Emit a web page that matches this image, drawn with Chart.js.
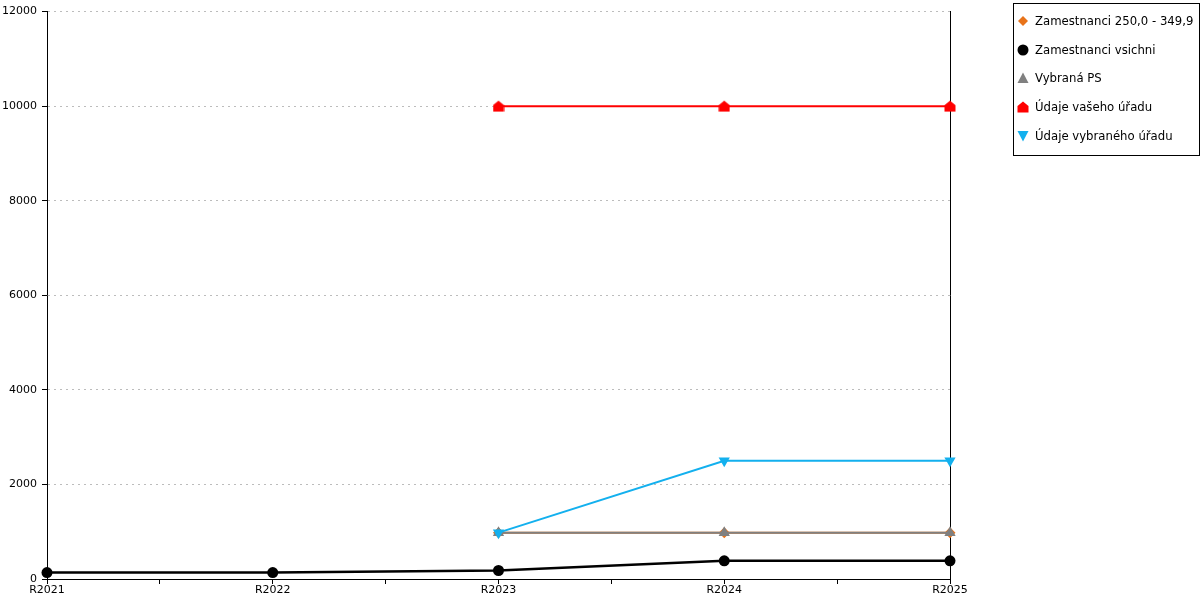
<!DOCTYPE html>
<html>
<head>
<meta charset="utf-8">
<script src="https://cdn.jsdelivr.net/npm/chart.js@4.4.1/dist/chart.umd.min.js"></script>
<style>
html,body{margin:0;padding:0;background:#fff;}
#wrap{position:relative;width:1200px;height:600px;}
#c{position:absolute;left:0;top:0;}
#legend{position:absolute;left:1013px;top:3px;width:187px;height:153px;border:1px solid #000;box-sizing:border-box;font-family:"DejaVu Sans";font-size:11.7px;color:#000;}
.item{position:absolute;left:3px;height:14px;line-height:14px;white-space:nowrap;}
.item svg{position:absolute;left:0;top:1px;}
.item span{position:absolute;left:18px;top:0;}
</style>
</head>
<body>
<div id="wrap">
<canvas id="c" width="1200" height="600"></canvas>
<div id="legend"></div>
</div>
<script>
const categories = ["R2021", "R2022", "R2023", "R2024", "R2025"];
const zamestnanci250 = [null, null, 980, 980, 980];
const zamestnanciVsichni = [135, 135, 180, 385, 385];
const vybranaPS = [null, null, 980, 980, 980];
const udajeVasehoUradu = [null, null, 10000, 10000, 10000];
const udajeVybranehoUradu = [null, null, 980, 2500, 2500];
const yTicks = [0, 2000, 4000, 6000, 8000, 10000, 12000];

const seriesNames = ["Zamestnanci 250,0 - 349,9", "Zamestnanci vsichni", "Vybraná PS", "Údaje vašeho úřadu", "Údaje vybraného úřadu"];
const seriesColors = ["#e8731a", "#000000", "#808080", "#ff0000", "#13b0ee"];

function houseCanvas(color){
  const cv = document.createElement('canvas');
  cv.width = 12; cv.height = 12;
  const g = cv.getContext('2d');
  g.fillStyle = color;
  g.beginPath();
  g.moveTo(6,0.5); g.lineTo(11.5,5); g.lineTo(11.5,11.5); g.lineTo(0.5,11.5); g.lineTo(0.5,5); g.closePath();
  g.fill();
  return cv;
}
const house = houseCanvas("#ff0000");

const toXY = arr => arr.map((v,i)=> v===null ? null : {x:i, y:v}).filter(p=>p);

const datasets = [
  {label:seriesNames[0], data:toXY(zamestnanci250), borderColor:seriesColors[0], backgroundColor:seriesColors[0], pointStyle:'rectRot', pointRadius:5.5, borderWidth:2},
  {label:seriesNames[1], data:toXY(zamestnanciVsichni), borderColor:seriesColors[1], backgroundColor:seriesColors[1], pointStyle:'circle', pointRadius:5.5, borderWidth:2.5},
  {label:seriesNames[2], data:toXY(vybranaPS), borderColor:seriesColors[2], backgroundColor:seriesColors[2], pointStyle:'triangle', pointRadius:6.5, borderWidth:2},
  {label:seriesNames[3], data:toXY(udajeVasehoUradu), borderColor:seriesColors[3], backgroundColor:seriesColors[3], pointStyle:house, pointRadius:6, borderWidth:2},
  {label:seriesNames[4], data:toXY(udajeVybranehoUradu), borderColor:seriesColors[4], backgroundColor:seriesColors[4], pointStyle:'triangle', pointRotation:180, pointRadius:6.5, borderWidth:2}
];
datasets.forEach((d,i)=>{ d.order = 5-i; d.pointBorderWidth = 0; d.tension = 0; d.fill=false; d.clip=false; d.pointHoverRadius=d.pointRadius; });

Chart.defaults.font.family = "DejaVu Sans";
Chart.defaults.font.size = 11;
Chart.defaults.color = "#000";

new Chart(document.getElementById('c'), {
  type:'line',
  data:{datasets},
  options:{
    responsive:false, animation:false,
    layout:{padding:{top:10,right:250,left:0,bottom:0}},
    plugins:{legend:{display:false}, tooltip:{enabled:false}},
    scales:{
      x:{type:'linear', min:0, max:categories.length-1,
        afterBuildTicks: s => { s.ticks = []; for(let v=0; v<=categories.length-1; v+=0.5) s.ticks.push({value:v}); },
        ticks:{autoSkip:false, maxRotation:0, padding:0, callback:(v)=> Number.isInteger(v) ? categories[v] : ''},
        grid:{drawOnChartArea:false, tickLength:5, color:'#000'},
        border:{color:'#000', width:1},
        afterFit: s => { s.height = 21; }
      },
      y:{min:0, max:12000,
        afterBuildTicks: s => { s.ticks = yTicks.map(v=>({value:v})); },
        ticks:{padding:5, callback:v=>String(v)},
        grid:{color:'#bcbcbc', tickColor:'#000', tickLength:5},
        border:{color:'#000', width:1, dash:[2,4]},
        afterFit: s => { s.width = 47; }
      },
      y2:{position:'right', min:0, max:12000, ticks:{display:false}, grid:{display:false}, border:{color:'#000', width:1}, afterFit: s => { s.width = 0; }}
    }
  }
});

// HTML legend
const lg = document.getElementById('legend');
const shapes = [
  c=>`<polygon points="6,1 11,6 6,11 1,6" fill="${c}"/>`,
  c=>`<circle cx="6" cy="6" r="5.5" fill="${c}"/>`,
  c=>`<polygon points="6,0.5 11.5,11 0.5,11" fill="${c}"/>`,
  c=>`<polygon points="6,0.5 11.5,5 11.5,11.5 0.5,11.5 0.5,5" fill="${c}"/>`,
  c=>`<polygon points="0.5,1 11.5,1 6,11.5" fill="${c}"/>`
];
const tops = [10, 39, 67, 96, 125];
seriesNames.forEach((n,i)=>{
  const d = document.createElement('div');
  d.className='item'; d.style.top = tops[i]+'px';
  d.innerHTML = `<svg width="12" height="12">${shapes[i](seriesColors[i])}</svg><span>${n}</span>`;
  lg.appendChild(d);
});
</script>
</body>
</html>
